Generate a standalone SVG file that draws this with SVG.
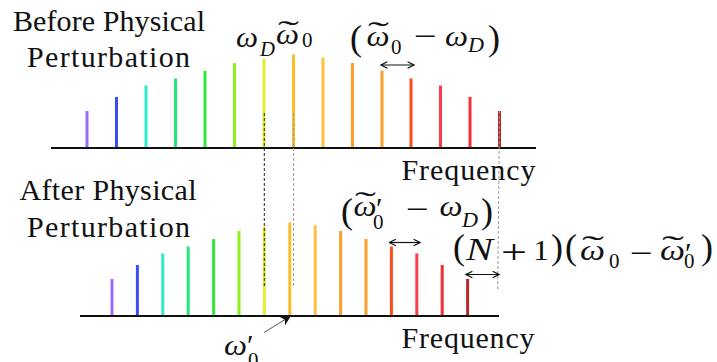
<svg xmlns="http://www.w3.org/2000/svg" width="717" height="362" viewBox="0 0 717 362">
<defs>
<style>
.lbl{font-family:"Liberation Serif","DejaVu Serif",serif;font-size:30px;fill:#111;text-anchor:middle}
.m{font-family:"Liberation Serif","DejaVu Serif",serif;font-size:30px;fill:#111}
.p{font-family:"Liberation Serif","DejaVu Serif",serif;font-size:36px;fill:#111}
.mi{font-family:"Liberation Serif","DejaVu Serif",serif;font-size:30px;font-style:italic;fill:#111}
.s{font-family:"Liberation Serif","DejaVu Serif",serif;font-size:21px;fill:#111}
.si{font-family:"Liberation Serif","DejaVu Serif",serif;font-size:21px;font-style:italic;fill:#111}
.t{font-family:"Liberation Serif","DejaVu Serif",serif;font-size:30px;fill:#111}
.axis{stroke:#111;stroke-width:2}
.bar{stroke-width:3}
.dk{stroke:#222;stroke-width:1;stroke-dasharray:3 2;fill:none}
.gr{stroke:#999;stroke-width:1;stroke-dasharray:3 2;fill:none}
.dbl{stroke:#111;stroke-width:1.2;fill:none;marker-start:url(#v);marker-end:url(#v)}
</style>
<marker id="v" viewBox="0 0 10 10" refX="9" refY="5" markerWidth="8" markerHeight="8" markerUnits="userSpaceOnUse" orient="auto-start-reverse">
<path d="M1,1 L9,5 L1,9" fill="none" stroke="#111" stroke-width="1.5"/>
</marker>
<marker id="tri" viewBox="0 0 10 10" refX="9" refY="5" markerWidth="10" markerHeight="10" markerUnits="userSpaceOnUse" orient="auto">
<path d="M0,0 L10,5 L0,10 L3,5 Z" fill="#111"/>
</marker>
</defs>

<g id="top-spectrum">
<line x1="87" y1="148" x2="87" y2="111" class="bar" stroke="#9b6bff"/>
<line x1="116.5" y1="148" x2="116.5" y2="97" class="bar" stroke="#3a4ff0"/>
<line x1="146" y1="148" x2="146" y2="85.5" class="bar" stroke="#2ee8d0"/>
<line x1="175.5" y1="148" x2="175.5" y2="78.5" class="bar" stroke="#22e87a"/>
<line x1="205" y1="148" x2="205" y2="71" class="bar" stroke="#30e83a"/>
<line x1="234.5" y1="148" x2="234.5" y2="63" class="bar" stroke="#8ef01a"/>
<line x1="264" y1="148" x2="264" y2="59" class="bar" stroke="#e0f030"/>
<line x1="293.5" y1="148" x2="293.5" y2="54.5" class="bar" stroke="#fbbc2a"/>
<line x1="323" y1="148" x2="323" y2="57.5" class="bar" stroke="#fcc03c"/>
<line x1="352.5" y1="148" x2="352.5" y2="63" class="bar" stroke="#fa9f2a"/>
<line x1="382" y1="148" x2="382" y2="71" class="bar" stroke="#fa9f30"/>
<line x1="411" y1="148" x2="411" y2="78.5" class="bar" stroke="#ff4a1a"/>
<line x1="440.5" y1="148" x2="440.5" y2="85.5" class="bar" stroke="#ff3a4a"/>
<line x1="470" y1="148" x2="470" y2="97" class="bar" stroke="#f52c3c"/>
<line x1="499.5" y1="148" x2="499.5" y2="111" class="bar" stroke="#b82828"/>
<line x1="51" y1="148" x2="536" y2="148" class="axis"/>
</g>

<g id="bottom-spectrum">
<line x1="112" y1="316" x2="112" y2="279" class="bar" stroke="#9b6bff"/>
<line x1="137.4" y1="316" x2="137.4" y2="265" class="bar" stroke="#3a4ff0"/>
<line x1="162.8" y1="316" x2="162.8" y2="253.5" class="bar" stroke="#2ee8d0"/>
<line x1="188.2" y1="316" x2="188.2" y2="246.5" class="bar" stroke="#22e87a"/>
<line x1="213.6" y1="316" x2="213.6" y2="239" class="bar" stroke="#30e83a"/>
<line x1="239" y1="316" x2="239" y2="231" class="bar" stroke="#8ef01a"/>
<line x1="264.4" y1="316" x2="264.4" y2="227" class="bar" stroke="#e0f030"/>
<line x1="289.8" y1="316" x2="289.8" y2="222.5" class="bar" stroke="#fbbc2a"/>
<line x1="315.2" y1="316" x2="315.2" y2="225.5" class="bar" stroke="#fcc03c"/>
<line x1="340.6" y1="316" x2="340.6" y2="231" class="bar" stroke="#fa9f2a"/>
<line x1="366" y1="316" x2="366" y2="239" class="bar" stroke="#fa9f30"/>
<line x1="391.4" y1="316" x2="391.4" y2="246.5" class="bar" stroke="#ff4a1a"/>
<line x1="416.8" y1="316" x2="416.8" y2="253.5" class="bar" stroke="#ff3a4a"/>
<line x1="442.2" y1="316" x2="442.2" y2="265" class="bar" stroke="#f52c3c"/>
<line x1="467.6" y1="316" x2="467.6" y2="279" class="bar" stroke="#b82828"/>
<line x1="80" y1="316" x2="499" y2="316" class="axis"/>
</g>

<g id="connectors">
<line x1="264.3" y1="113" x2="264.3" y2="288" class="dk"/>
<line x1="293.6" y1="113" x2="293.6" y2="288" class="gr"/>
<line x1="499.5" y1="111" x2="497.7" y2="290" class="gr"/>
<line x1="381" y1="65" x2="414" y2="65" class="dbl"/>
<line x1="389.5" y1="242.5" x2="420" y2="242.5" class="dbl"/>
<line x1="466" y1="274.5" x2="499" y2="274.5" class="dbl"/>
<line x1="264" y1="332.5" x2="290" y2="316.5" stroke="#555" stroke-width="1" marker-end="url(#tri)"/>
</g>

<g id="title-before">
<text class="lbl" x="109" y="31" textLength="192">Before Physical</text>
<text class="lbl" x="108.5" y="67" textLength="163">Perturbation</text>
</g>
<g id="title-after">
<text class="lbl" x="108" y="200" textLength="177">After Physical</text>
<text class="lbl" x="108.5" y="237" textLength="163">Perturbation</text>
</g>
<g id="freq-top"><text class="t" x="401.5" y="180" textLength="134">Frequency</text></g>
<g id="freq-bottom"><text class="t" x="401.5" y="348" textLength="133">Frequency</text></g>

<g id="label-wD-w0">
<text class="mi" x="236" y="47" textLength="22" lengthAdjust="spacingAndGlyphs">ω</text>
<text class="si" x="260" y="56" textLength="15" lengthAdjust="spacingAndGlyphs">D</text>
<text class="mi" x="276" y="44" textLength="23" lengthAdjust="spacingAndGlyphs">ω</text>
<text class="m" x="278" y="41" textLength="21" lengthAdjust="spacingAndGlyphs">˜</text>
<text class="s" x="302" y="47">0</text>
</g>

<g id="label-diff-top">
<text class="p" x="350" y="50">(</text>
<text class="mi" x="366.5" y="46" textLength="23" lengthAdjust="spacingAndGlyphs">ω</text>
<text class="m" x="368" y="42" textLength="21" lengthAdjust="spacingAndGlyphs">˜</text>
<text class="s" x="391" y="54">0</text>
<text class="m" x="414" y="46" textLength="23" lengthAdjust="spacingAndGlyphs">−</text>
<text class="mi" x="445" y="46" textLength="23" lengthAdjust="spacingAndGlyphs">ω</text>
<text class="si" x="468" y="52" textLength="16" lengthAdjust="spacingAndGlyphs">D</text>
<text class="p" x="488" y="50">)</text>
</g>

<g id="label-diff-bottom">
<text class="p" x="341" y="223">(</text>
<text class="mi" x="353.5" y="216" textLength="23" lengthAdjust="spacingAndGlyphs">ω</text>
<text class="m" x="355" y="212" textLength="21" lengthAdjust="spacingAndGlyphs">˜</text>
<text class="m" x="376" y="218">′</text>
<text class="s" x="373" y="229">0</text>
<text class="m" x="406" y="218.5" textLength="23" lengthAdjust="spacingAndGlyphs">−</text>
<text class="mi" x="439.5" y="216" textLength="23" lengthAdjust="spacingAndGlyphs">ω</text>
<text class="si" x="462" y="226.5" textLength="16" lengthAdjust="spacingAndGlyphs">D</text>
<text class="p" x="481" y="223">)</text>
</g>

<g id="label-N">
<text class="p" x="453" y="259">(</text>
<text class="mi" x="466" y="260" style="font-size:32px" textLength="27" lengthAdjust="spacingAndGlyphs">N</text>
<text class="m" x="501" y="263" style="font-size:34px" textLength="26" lengthAdjust="spacingAndGlyphs">+</text>
<text class="m" x="533" y="260" textLength="16" lengthAdjust="spacingAndGlyphs">1</text>
<text class="p" x="551" y="259">)</text>
<text class="p" x="565" y="259">(</text>
<text class="mi" x="580" y="260" textLength="25" lengthAdjust="spacingAndGlyphs">ω</text>
<text class="m" x="582" y="256" textLength="22" lengthAdjust="spacingAndGlyphs">˜</text>
<text class="s" x="609" y="268">0</text>
<text class="m" x="630" y="262.5" textLength="23" lengthAdjust="spacingAndGlyphs">−</text>
<text class="mi" x="660" y="260" textLength="25" lengthAdjust="spacingAndGlyphs">ω</text>
<text class="m" x="662" y="256" textLength="22" lengthAdjust="spacingAndGlyphs">˜</text>
<text class="m" x="685" y="263">′</text>
<text class="s" x="684" y="268">0</text>
<text class="p" x="701" y="259">)</text>
</g>

<g id="label-w0prime">
<text class="mi" x="224" y="355" textLength="23" lengthAdjust="spacingAndGlyphs">ω</text>
<text class="m" x="247" y="355">′</text>
<text class="s" x="248" y="367">0</text>
</g>
</svg>
